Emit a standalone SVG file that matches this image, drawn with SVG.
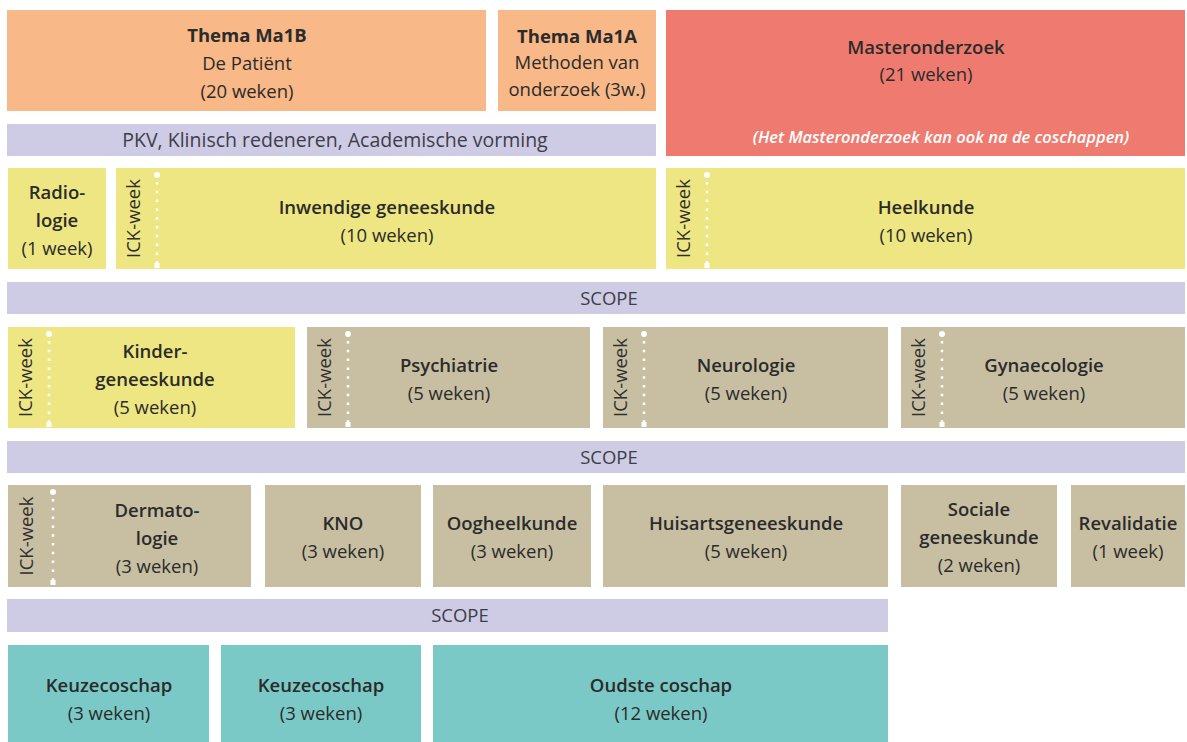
<svg xmlns="http://www.w3.org/2000/svg" width="1187" height="742" viewBox="0 0 1187 742">
<defs>
<style>
.orange{fill:#F8B888}
.red{fill:#EF7B70}
.lav{fill:#CECCE4}
.yel{fill:#EEE682}
.tan{fill:#C8BFA3}
.teal{fill:#7BC9C6}
text{font-family:"Open Sans","Liberation Sans",sans-serif;font-size:18.5px;fill:#2b2b2b;text-anchor:middle}
.t{font-weight:600}
.b{font-weight:700}
.bar{fill:#3d3d4a}
.pkv{font-size:19.5px}
.note{fill:#ffffff;font-style:italic;font-weight:600;font-size:16.5px}
.ick{font-size:18.5px;fill:#2f2f2f;text-anchor:middle}
.dots{stroke:#ffffff;stroke-width:2.5;stroke-dasharray:2.5 6.3;fill:none}
.dot{fill:#ffffff}
</style>
<g id="ickmark">
<line class="dots" x1="0" y1="14" x2="0" y2="95"/>
<circle class="dot" cx="0" cy="7" r="3"/>
<rect class="dot" x="-2.5" y="95" width="5" height="5"/>
</g>
</defs>

<g id="thema-ma1b">
<rect class="orange" x="7" y="10" width="479" height="101"/>
<text class="b" x="247" y="42">Thema Ma1B</text>
<text x="247" y="70">De Patiënt</text>
<text x="247" y="98">(20 weken)</text>
</g>
<g id="thema-ma1a">
<rect class="orange" x="498" y="10" width="158" height="101"/>
<text class="b" x="577" y="43">Thema Ma1A</text>
<text x="577" y="69">Methoden van</text>
<text x="577" y="96">onderzoek (3w.)</text>
</g>
<g id="masteronderzoek">
<rect class="red" x="666" y="10" width="519" height="146"/>
<text class="t" x="926" y="54">Masteronderzoek</text>
<text x="926" y="81">(21 weken)</text>
<text class="note" x="941" y="143">(Het Masteronderzoek kan ook na de coschappen)</text>
</g>
<g id="pkv">
<rect class="lav" x="7" y="124" width="649" height="32"/>
<text class="bar pkv" x="335" y="147">PKV, Klinisch redeneren, Academische vorming</text>
</g>

<g id="radiologie">
<rect class="yel" x="8" y="168" width="98" height="101"/>
<text class="t" x="57" y="199">Radio-</text>
<text class="t" x="57" y="227">logie</text>
<text x="57" y="255">(1 week)</text>
</g>
<g id="inwendige">
<rect class="yel" x="116" y="168" width="540" height="101"/>
<text class="ick" transform="translate(140,218.5) rotate(-90)">ICK-week</text>
<use href="#ickmark" x="157" y="168"/>
<text class="t" x="387" y="214">Inwendige geneeskunde</text>
<text x="387" y="242">(10 weken)</text>
</g>
<g id="heelkunde">
<rect class="yel" x="666" y="168" width="519" height="101"/>
<text class="ick" transform="translate(690,218.5) rotate(-90)">ICK-week</text>
<use href="#ickmark" x="707" y="168"/>
<text class="t" x="926" y="214">Heelkunde</text>
<text x="926" y="242">(10 weken)</text>
</g>

<g id="scope1">
<rect class="lav" x="7" y="282" width="1178" height="32"/>
<text class="bar" x="609" y="305">SCOPE</text>
</g>

<g id="kindergeneeskunde">
<rect class="yel" x="8" y="327" width="287" height="101"/>
<text class="ick" transform="translate(32,377.5) rotate(-90)">ICK-week</text>
<use href="#ickmark" x="49" y="327"/>
<text class="t" x="155" y="358">Kinder-</text>
<text class="t" x="155" y="386">geneeskunde</text>
<text x="155" y="414">(5 weken)</text>
</g>
<g id="psychiatrie">
<rect class="tan" x="307" y="327" width="283" height="101"/>
<text class="ick" transform="translate(331,377.5) rotate(-90)">ICK-week</text>
<use href="#ickmark" x="348" y="327"/>
<text class="t" x="449" y="372">Psychiatrie</text>
<text x="449" y="400">(5 weken)</text>
</g>
<g id="neurologie">
<rect class="tan" x="603" y="327" width="285" height="101"/>
<text class="ick" transform="translate(627,377.5) rotate(-90)">ICK-week</text>
<use href="#ickmark" x="644" y="327"/>
<text class="t" x="746" y="372">Neurologie</text>
<text x="746" y="400">(5 weken)</text>
</g>
<g id="gynaecologie">
<rect class="tan" x="901" y="327" width="284" height="101"/>
<text class="ick" transform="translate(925,377.5) rotate(-90)">ICK-week</text>
<use href="#ickmark" x="942" y="327"/>
<text class="t" x="1044" y="372">Gynaecologie</text>
<text x="1044" y="400">(5 weken)</text>
</g>

<g id="scope2">
<rect class="lav" x="7" y="441" width="1178" height="32"/>
<text class="bar" x="609" y="464">SCOPE</text>
</g>

<g id="dermatologie">
<rect class="tan" x="8" y="485" width="243" height="102"/>
<text class="ick" transform="translate(33,536) rotate(-90)">ICK-week</text>
<use href="#ickmark" x="53" y="485"/>
<text class="t" x="157" y="517">Dermato-</text>
<text class="t" x="157" y="545">logie</text>
<text x="157" y="573">(3 weken)</text>
</g>
<g id="kno">
<rect class="tan" x="265" y="485" width="156" height="102"/>
<text class="t" x="343" y="530">KNO</text>
<text x="343" y="558">(3 weken)</text>
</g>
<g id="oogheelkunde">
<rect class="tan" x="433" y="485" width="158" height="102"/>
<text class="t" x="512" y="530">Oogheelkunde</text>
<text x="512" y="558">(3 weken)</text>
</g>
<g id="huisartsgeneeskunde">
<rect class="tan" x="603" y="485" width="285" height="102"/>
<text class="t" x="746" y="530">Huisartsgeneeskunde</text>
<text x="746" y="558">(5 weken)</text>
</g>
<g id="sociale">
<rect class="tan" x="901" y="485" width="156" height="102"/>
<text class="t" x="979" y="516">Sociale</text>
<text class="t" x="979" y="544">geneeskunde</text>
<text x="979" y="572">(2 weken)</text>
</g>
<g id="revalidatie">
<rect class="tan" x="1071" y="485" width="114" height="102"/>
<text class="t" x="1128" y="530">Revalidatie</text>
<text x="1128" y="558">(1 week)</text>
</g>

<g id="scope3">
<rect class="lav" x="7" y="599" width="881" height="33"/>
<text class="bar" x="460" y="622">SCOPE</text>
</g>

<g id="keuze1">
<rect class="teal" x="8" y="645" width="201" height="97"/>
<text class="t" x="109" y="692">Keuzecoschap</text>
<text x="109" y="720">(3 weken)</text>
</g>
<g id="keuze2">
<rect class="teal" x="221" y="645" width="200" height="97"/>
<text class="t" x="321" y="692">Keuzecoschap</text>
<text x="321" y="720">(3 weken)</text>
</g>
<g id="oudste">
<rect class="teal" x="433" y="645" width="455" height="97"/>
<text class="t" x="661" y="692">Oudste coschap</text>
<text x="661" y="720">(12 weken)</text>
</g>
<g id="connectors"/>
</svg>
